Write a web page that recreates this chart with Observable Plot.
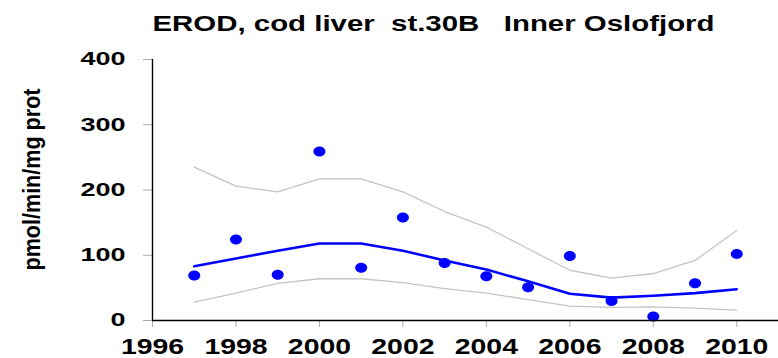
<!DOCTYPE html>
<html>
<head>
<meta charset="utf-8">
<script src="https://cdn.jsdelivr.net/npm/d3@7"></script>
<script src="https://cdn.jsdelivr.net/npm/@observablehq/plot@0.6"></script>
<style>
  body { margin: 0; background: #fff; }
  svg { display: block; }
</style>
</head>
<body>
<div id="chart"></div>
<script>
// EROD activity in cod liver, station 30B (Inner Oslofjord), 1997–2010
const titleText = "EROD, cod liver  st.30B   Inner Oslofjord";
const yLabel = "pmol/min/mg prot";

const years = [1997, 1998, 1999, 2000, 2001, 2002, 2003, 2004, 2005, 2006, 2007, 2008, 2009, 2010];
const erod  = [69, 124, 70, 259, 81, 158, 88, 68, 51, 99, 30, 6, 57, 102];   // annual medians
const trend = [83, 95, 107, 118, 118, 107, 92, 78, 60, 41, 35, 38, 42, 48];  // smoothed trend
const upper = [235, 206, 197, 217, 217, 197, 167, 143, 110, 77, 65, 72, 92, 138]; // upper confidence band
const lower = [28, 42, 57, 64, 64, 58, 49, 42, 32, 22, 20, 21, 19, 16];      // lower confidence band

const xTicks = [1996, 1998, 2000, 2002, 2004, 2006, 2008, 2010];
const yTicks = [0, 100, 200, 300, 400];

const rows = years.map((year, i) => ({
  year, erod: erod[i], trend: trend[i], upper: upper[i], lower: lower[i]
}));

// slightly wide elliptical marker
const ellipse = {
  draw(context) {
    const rx = 6, ry = 5, k = 0.5523;
    context.moveTo(rx, 0);
    context.bezierCurveTo(rx, ry * k, rx * k, ry, 0, ry);
    context.bezierCurveTo(-rx * k, ry, -rx, ry * k, -rx, 0);
    context.bezierCurveTo(-rx, -ry * k, -rx * k, -ry, 0, -ry);
    context.bezierCurveTo(rx * k, -ry, rx, -ry * k, rx, 0);
    context.closePath();
  }
};

const chart = Plot.plot({
  width: 778,
  height: 358,
  marginLeft: 152,
  marginRight: 0,
  marginTop: 59,
  marginBottom: 38,
  style: { fontFamily: "'Liberation Sans', Arial, sans-serif", background: "#fff", color: "#000" },
  x: { domain: [1996, 2011] },
  y: { domain: [0, 400] },
  marks: [
    Plot.axisY(yTicks, { tickSize: 9, tickPadding: 18, fontSize: 18, fontWeight: "bold", label: null }),
    Plot.axisX(xTicks, { tickSize: 7, tickPadding: 11, fontSize: 22, fontWeight: "bold", label: null, tickFormat: d => `${d}` }),
    Plot.lineY(rows, { x: "year", y: "upper", stroke: "#c4c4c4", strokeWidth: 1.3 }),
    Plot.lineY(rows, { x: "year", y: "lower", stroke: "#c4c4c4", strokeWidth: 1.3 }),
    Plot.lineY(rows, { x: "year", y: "trend", stroke: "#0000ff", strokeWidth: 2.6 }),
    Plot.dot(rows, { x: "year", y: "erod", fill: "#0000ff", symbol: ellipse }),
    Plot.ruleX([1996], { stroke: "#000", strokeWidth: 1.4 }),
    Plot.ruleY([0], { stroke: "#000", strokeWidth: 1.6 }),
    Plot.text([titleText], {
      frameAnchor: "top-left", textAnchor: "start", lineAnchor: "bottom",
      dy: -29, fontSize: 22, fontWeight: "bold", fill: "#000"
    }),
    Plot.text([yLabel], {
      frameAnchor: "left", textAnchor: "middle", lineAnchor: "middle", rotate: -90,
      dx: -120, dy: -10.5, fontSize: 23, fontWeight: "bold", fill: "#000"
    })
  ]
});

document.getElementById("chart").append(chart);

// tick marks in grey
const svg = d3.select(chart);
svg.selectAll("g[aria-label='y-axis tick'], g[aria-label='x-axis tick']").attr("stroke", "#aaa");

// widen the bold lettering
function stretch(sel, factor) {
  sel.each(function () {
    const len = this.getComputedTextLength();
    this.setAttribute("textLength", len * factor);
    this.setAttribute("lengthAdjust", "spacingAndGlyphs");
  });
}
stretch(svg.selectAll("g[aria-label='y-axis tick label'] text"), 1.5);
stretch(svg.selectAll("g[aria-label='x-axis tick label'] text"), 1.29);
svg.selectAll("g[aria-label='text'] text").each(function () {
  const t = this.textContent;
  this.setAttribute("lengthAdjust", "spacingAndGlyphs");
  this.setAttribute("textLength", t === titleText ? 562 : 182);
});
</script>
</body>
</html>
